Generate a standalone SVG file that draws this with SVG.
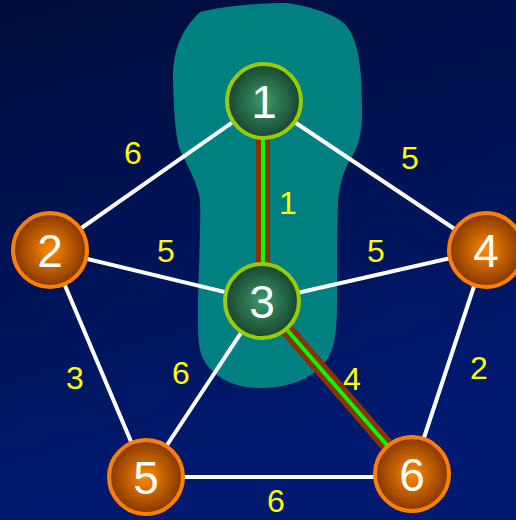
<svg xmlns="http://www.w3.org/2000/svg" width="516" height="520" viewBox="0 0 516 520">
<defs>
<linearGradient id="bg" x1="0" y1="0" x2="0.3" y2="1">
<stop offset="0" stop-color="#000c3a"/>
<stop offset="1" stop-color="#001a72"/>
</linearGradient>
<radialGradient id="gG" cx="0.5" cy="0.5" r="0.5">
<stop offset="0" stop-color="#3d9a6c"/>
<stop offset="1" stop-color="#17452e"/>
</radialGradient>
<radialGradient id="gO" cx="0.5" cy="0.5" r="0.5">
<stop offset="0" stop-color="#ff8a00"/>
<stop offset="1" stop-color="#843600"/>
</radialGradient>
<style>
.e{stroke:#ffffff;stroke-width:4;fill:none}
.sb{stroke:#8b3200;stroke-width:14;fill:none}
.sg{stroke:#00ff00;stroke-width:4;fill:none}
.w{fill:#ffff00;font-family:"Liberation Sans",Arial,sans-serif;font-size:32px;text-anchor:middle}
.nl{fill:#ffffff;font-family:"Liberation Sans",Arial,sans-serif;font-size:46px;text-anchor:middle}
.ng{fill:url(#gG);stroke:#99cc00;stroke-width:4}
.no{fill:url(#gO);stroke:#ff8000;stroke-width:4}
</style>
</defs>
<rect width="516" height="520" fill="url(#bg)"/>
<path d="M200,12 C230,5 265,3 287,3 C300,5 310,7 317,10 C330,14 343,20 348,28 C355,38 358,50 360,67 C362,85 362,105 362,120 C361,135 358,148 350,160 C344,170 340,182 338,200 C337,230 337,270 337,300 C337,325 336,345 328,358 C315,378 290,388 260,388 C235,388 215,378 205,362 C197,350 198,333 198,300 C199,260 201,220 200,200 C198,185 190,170 180,150 C175,135 174,110 173,80 C173,55 178,33 200,12 Z" fill="#008080"/>
<g id="connectors">
<line class="e" x1="263" y1="101" x2="50" y2="250"/>
<line class="e" x1="263" y1="101" x2="486" y2="250"/>
<line class="e" x1="50" y1="250" x2="262" y2="301"/>
<line class="e" x1="262" y1="301" x2="486" y2="250"/>
<line class="e" x1="50" y1="250" x2="146" y2="477"/>
<line class="e" x1="262" y1="301" x2="146" y2="477"/>
<line class="e" x1="486" y1="250" x2="412" y2="474"/>
<line class="e" x1="146" y1="477" x2="412" y2="477"/>
<line class="sb" x1="263" y1="101" x2="263" y2="301"/>
<line class="sg" x1="263" y1="101" x2="263" y2="301"/>
<line class="sb" x1="262" y1="301" x2="412" y2="474"/>
<line class="sg" x1="262" y1="301" x2="412" y2="474"/>
</g>
<g id="weights">
<text class="w" x="133" y="164">6</text>
<text class="w" x="410" y="169">5</text>
<text class="w" x="288" y="214">1</text>
<text class="w" x="166" y="262">5</text>
<text class="w" x="376" y="262">5</text>
<text class="w" x="75" y="389">3</text>
<text class="w" x="181" y="384">6</text>
<text class="w" x="352" y="390">4</text>
<text class="w" x="479" y="379">2</text>
<text class="w" x="276" y="512">6</text>
</g>
<g id="node1"><circle class="ng" cx="264" cy="101" r="37"/><text class="nl" x="264" y="118">1</text></g>
<g id="node2"><circle class="no" cx="50" cy="250" r="37"/><text class="nl" x="50" y="267">2</text></g>
<g id="node3"><circle class="ng" cx="262" cy="301" r="37"/><text class="nl" x="262" y="318">3</text></g>
<g id="node4"><circle class="no" cx="486" cy="250" r="37"/><text class="nl" x="486" y="267">4</text></g>
<g id="node5"><circle class="no" cx="146" cy="477" r="37"/><text class="nl" x="146" y="494">5</text></g>
<g id="node6"><circle class="no" cx="412" cy="474" r="37"/><text class="nl" x="412" y="491">6</text></g>
</svg>
